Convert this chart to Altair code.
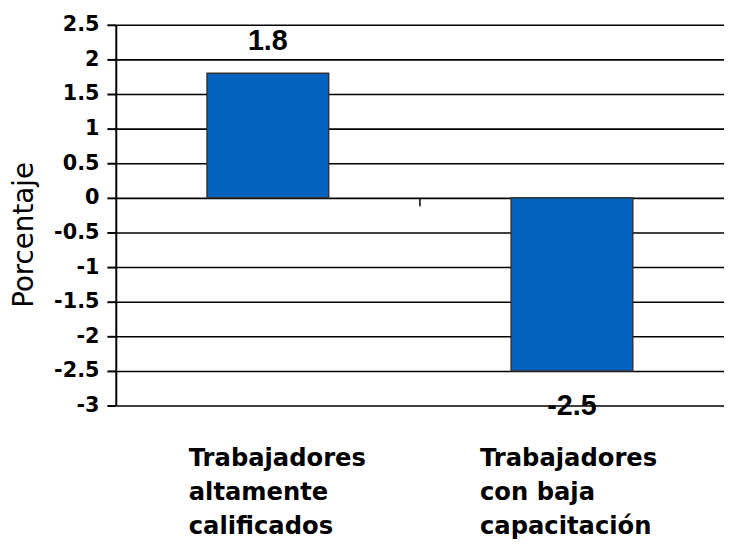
import altair as alt
import pandas as pd

categories = ["Trabajadores altamente calificados", "Trabajadores con baja capacitación"]
values = [1.8, -2.5]
label_lines = [["Trabajadores", "altamente", "calificados"],
               ["Trabajadores", "con baja", "capacitación"]]
y_ticks = [-3, -2.5, -2, -1.5, -1, -0.5, 0, 0.5, 1, 1.5, 2, 2.5]
y_title = "Porcentaje"

df = pd.DataFrame({"cat": categories, "val": values, "lab": [str(v) for v in values]})
tick_df = pd.DataFrame({"cat": [categories[1]], "val": [0.0], "val2": [-0.12]})

PLOT_W = 615
PAD_INNER = 0.6
PAD_OUTER = 0.3
step = PLOT_W / (len(categories) - PAD_INNER + 2 * PAD_OUTER)
gap_half = step * PAD_INNER / 2  # distance from band start to the category boundary


def arr(lines):
    return "[" + ",".join("'" + s + "'" for s in lines) + "]"


label_expr = f"datum.value == '{categories[0]}' ? {arr(label_lines[0])} : {arr(label_lines[1])}"

xscale = alt.Scale(domain=categories, paddingInner=PAD_INNER, paddingOuter=PAD_OUTER)
yscale = alt.Scale(domain=[-3, 2.5], nice=False, zero=False)

x_axis = alt.Axis(
    title=None, domain=False, ticks=False, grid=False,
    labelExpr=label_expr, labelAngle=0, labelAlign="left", labelBaseline="alphabetic",
    labelFont="DejaVu Sans", labelFontWeight="bold", labelFontSize=24.5,
    labelLineHeight=34, labelPadding=61, labelLimit=0, labelColor="black",
    labelOverlap=False,
    labelOffset={"condition": {"test": f"datum.value == '{categories[1]}'", "value": -93}, "value": -80},
)
y_axis = alt.Axis(
    values=y_ticks, labelExpr="'' + datum.value", labelOverlap=False,
    labelFont="DejaVu Sans", labelFontWeight="bold", labelFontSize=21, labelColor="black",
    labelPadding=8, tickSize=9, tickWidth=2, tickColor="black",
    domainColor="black", domainWidth=2,
    grid=True, gridColor="black", gridWidth=1.6,
    title=y_title, titleFont="DejaVu Sans", titleFontWeight="normal", titleFontSize=28,
    titleColor="black", titleAngle=270, titleX=-84, titleY=212,
    titleBaseline="alphabetic", titleAlign="center",
)

X = alt.X("cat:N", scale=xscale, axis=x_axis, sort=categories)
Y = alt.Y("val:Q", scale=yscale, axis=y_axis)

bars = alt.Chart(df).mark_bar(color="#0563C0", stroke="#333333", strokeWidth=1.5).encode(x=X, y=Y)

zero_tick = alt.Chart(tick_df).mark_rule(color="black", strokeWidth=1.5, xOffset=-gap_half).encode(
    x=alt.X("cat:N", scale=xscale, axis=x_axis, sort=categories, bandPosition=0),
    y=Y,
    y2="val2:Q",
)

pos_labels = alt.Chart(df).transform_filter("datum.val >= 0").mark_text(
    font="Liberation Sans", fontWeight="bold", fontSize=29, dy=-24,
    baseline="alphabetic", color="black"
).encode(x=X, y=Y, text="lab:N")

neg_labels = alt.Chart(df).transform_filter("datum.val < 0").mark_text(
    font="Liberation Sans", fontWeight="bold", fontSize=29, dy=45,
    baseline="alphabetic", color="black"
).encode(x=X, y=Y, text="lab:N")

chart = alt.layer(bars, zero_tick, pos_labels, neg_labels).properties(
    width=PLOT_W, height=385,
    autosize=alt.AutoSizeParams(type="none"),
    padding={"left": 109, "top": 14, "right": 0, "bottom": 134},
).configure_view(stroke=None)

chart.save("out.html", embed_options={"renderer": "svg", "actions": False})
